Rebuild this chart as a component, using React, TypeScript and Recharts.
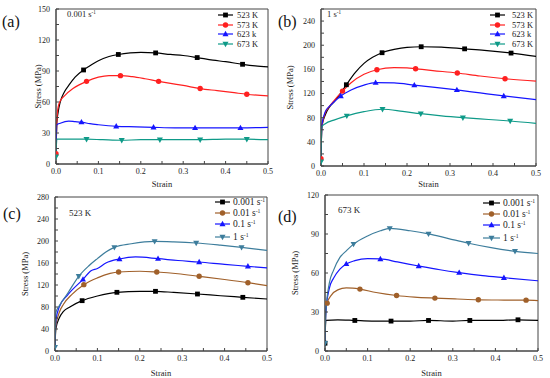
import React from "react";
import { ComposedChart, Line, Scatter, XAxis, YAxis, ReferenceArea } from "recharts";

type P = [number, number];

const FONT = "'Liberation Serif', 'DejaVu Serif', serif";

// ---- (a) 0.001 s-1, temperatures ----
const a523: P[] = [[0, 8], [0.002, 40], [0.005, 50], [0.01, 60], [0.02, 70], [0.03, 76], [0.045, 84], [0.065, 91], [0.08, 95], [0.1, 100], [0.125, 104], [0.147, 106], [0.175, 107.5], [0.2, 108], [0.235, 107.5], [0.27, 106], [0.3, 105], [0.333, 103], [0.37, 100.5], [0.4, 99], [0.44, 96.5], [0.47, 95], [0.5, 94]];
const a523m: P[] = [[0.065, 91], [0.147, 106], [0.235, 107.5], [0.333, 103], [0.44, 96.5]];
const a573: P[] = [[0, 10], [0.002, 42], [0.005, 55], [0.01, 61], [0.02, 66], [0.04, 73], [0.072, 80], [0.1, 84], [0.125, 85.5], [0.152, 85.5], [0.18, 84.5], [0.21, 82.5], [0.242, 80], [0.27, 78], [0.3, 76], [0.34, 73], [0.38, 71], [0.42, 69], [0.45, 67.5], [0.5, 66]];
const a573m: P[] = [[0, 10], [0.072, 80], [0.152, 85.5], [0.242, 80], [0.34, 73], [0.45, 67.5]];
const a623: P[] = [[0, 8], [0.002, 38], [0.01, 39.5], [0.03, 41.5], [0.045, 41], [0.06, 40.5], [0.08, 39], [0.1, 38], [0.142, 36.5], [0.19, 36], [0.23, 35.5], [0.28, 35], [0.328, 35], [0.38, 35], [0.435, 35], [0.5, 35.5]];
const a623m: P[] = [[0.06, 40.5], [0.142, 36.5], [0.23, 35.5], [0.328, 35], [0.435, 35]];
const a673: P[] = [[0, 7], [0.002, 24], [0.03, 24], [0.072, 24], [0.11, 23.5], [0.155, 23], [0.2, 23.5], [0.245, 23.5], [0.3, 23.5], [0.34, 23.5], [0.4, 24], [0.45, 24], [0.5, 23.5]];
const a673m: P[] = [[0, 7], [0.072, 24], [0.155, 23], [0.245, 23.5], [0.34, 23.5], [0.45, 24]];

// ---- (b) 1 s-1, temperatures ----
const b523: P[] = [[0, 10], [0.002, 65], [0.01, 85], [0.02, 98], [0.03, 106], [0.045, 120], [0.059, 134.6], [0.08, 155], [0.1, 170], [0.12, 180], [0.142, 187.6], [0.17, 193], [0.2, 196.5], [0.233, 197.5], [0.28, 197], [0.334, 194], [0.38, 191.5], [0.442, 187], [0.5, 181.5]];
const b523m: P[] = [[0.059, 134.6], [0.142, 187.6], [0.233, 197.5], [0.334, 194], [0.442, 187]];
const b573: P[] = [[0, 12], [0.002, 65], [0.01, 88], [0.02, 99], [0.03, 108], [0.05, 124], [0.07, 138], [0.1, 152], [0.13, 159.4], [0.17, 163], [0.2, 162.5], [0.22, 161], [0.26, 158], [0.317, 154], [0.37, 149], [0.428, 144.5], [0.5, 140.7]];
const b573m: P[] = [[0, 12], [0.05, 124], [0.13, 159.4], [0.22, 161], [0.317, 154], [0.428, 144.5]];
const b623: P[] = [[0, 8], [0.002, 68], [0.01, 90], [0.02, 99], [0.03, 106], [0.046, 116], [0.07, 126], [0.1, 134], [0.127, 138], [0.17, 137.5], [0.217, 134], [0.26, 130.5], [0.316, 126], [0.37, 121], [0.425, 116], [0.5, 110]];
const b623m: P[] = [[0.046, 116], [0.127, 138], [0.217, 134], [0.316, 126], [0.425, 116]];
const b673: P[] = [[0, 7], [0.002, 65], [0.01, 70], [0.03, 76], [0.06, 83], [0.1, 90], [0.143, 94], [0.19, 90.5], [0.232, 86.6], [0.28, 83], [0.33, 80], [0.39, 77], [0.44, 74.5], [0.5, 70.6]];
const b673m: P[] = [[0, 7], [0.06, 83], [0.143, 94], [0.232, 86.6], [0.33, 80], [0.44, 74.5]];

// ---- (c) 523 K, strain rates ----
const c0001: P[] = [[0, 8], [0.002, 40], [0.01, 60], [0.02, 72], [0.035, 80], [0.064, 91.5], [0.1, 100], [0.146, 106.7], [0.2, 108.5], [0.237, 108.5], [0.28, 106.5], [0.336, 103.6], [0.39, 100.5], [0.443, 97.6], [0.5, 94.5]];
const c0001m: P[] = [[0.064, 91.5], [0.146, 106.7], [0.237, 108.5], [0.336, 103.6], [0.443, 97.6]];
const c001: P[] = [[0, 10], [0.002, 45], [0.01, 70], [0.02, 85], [0.04, 103], [0.068, 120.6], [0.1, 133], [0.13, 141], [0.15, 143.6], [0.2, 145], [0.24, 143.6], [0.29, 140.5], [0.34, 135.8], [0.4, 130], [0.455, 124.2], [0.5, 118.8]];
const c001m: P[] = [[0.068, 120.6], [0.15, 143.6], [0.24, 143.6], [0.34, 135.8], [0.455, 124.2]];
const c01: P[] = [[0, 8], [0.002, 55], [0.01, 80], [0.03, 102], [0.066, 130.3], [0.085, 146], [0.1, 150], [0.12, 160], [0.152, 167.3], [0.19, 171], [0.243, 167.9], [0.29, 164.5], [0.34, 161.8], [0.4, 157.5], [0.455, 154], [0.5, 151]];
const c01m: P[] = [[0.066, 130.3], [0.152, 167.3], [0.243, 167.9], [0.34, 161.8], [0.455, 154]];
const c1: P[] = [[0, 7], [0.002, 70], [0.01, 82], [0.03, 105], [0.056, 135.8], [0.08, 155], [0.1, 168], [0.12, 180], [0.14, 188.5], [0.18, 195], [0.235, 199.4], [0.28, 198.5], [0.333, 196.4], [0.39, 192.5], [0.44, 188.5], [0.5, 183]];
const c1m: P[] = [[0, 7], [0.056, 135.8], [0.14, 188.5], [0.235, 199.4], [0.333, 196.4], [0.44, 188.5]];

// ---- (d) 673 K, strain rates ----
const d0001: P[] = [[0, 6], [0.002, 23.5], [0.03, 24], [0.07, 23.5], [0.11, 23], [0.155, 23], [0.2, 23], [0.243, 23.5], [0.3, 23], [0.34, 23.5], [0.4, 23.5], [0.453, 24], [0.5, 23.5]];
const d0001m: P[] = [[0, 6], [0.07, 23.5], [0.155, 23], [0.243, 23.5], [0.34, 23.5], [0.453, 24]];
const d001: P[] = [[0, 8], [0.002, 30], [0.005, 36.8], [0.015, 43], [0.03, 47], [0.05, 48.5], [0.065, 48.3], [0.082, 47.6], [0.12, 45], [0.168, 42.7], [0.21, 41.5], [0.258, 40.7], [0.31, 40], [0.36, 39.4], [0.42, 39.2], [0.472, 39.1], [0.5, 38.8]];
const d001m: P[] = [[0.005, 36.8], [0.082, 47.6], [0.168, 42.7], [0.258, 40.7], [0.36, 39.4], [0.472, 39.1]];
const d01: P[] = [[0, 8], [0.002, 30], [0.01, 48], [0.02, 56], [0.035, 63], [0.05, 67], [0.07, 69.5], [0.1, 71], [0.13, 70.8], [0.17, 68.5], [0.22, 65.4], [0.27, 62.5], [0.315, 60.3], [0.37, 58], [0.42, 56.4], [0.5, 54]];
const d01m: P[] = [[0.05, 67], [0.13, 70.8], [0.22, 65.4], [0.315, 60.3], [0.42, 56.4]];
const d1: P[] = [[0, 6], [0.002, 30], [0.01, 52], [0.02, 62], [0.035, 72], [0.05, 77], [0.067, 82.2], [0.1, 88.5], [0.13, 92.5], [0.152, 94.3], [0.2, 92.5], [0.243, 90.1], [0.29, 86.5], [0.337, 82.9], [0.39, 79.5], [0.446, 76.7], [0.5, 75]];
const d1m: P[] = [[0, 6], [0.067, 82.2], [0.152, 94.3], [0.243, 90.1], [0.337, 82.9], [0.446, 76.7]];

// ---- labels and ticks ----
const tempLabels = ["523 K", "573 K", "623 k", "673 K"];
const rateLabels = ["0.001", "0.01", "0.1", "1"];
const xTicks = [0, 0.05, 0.1, 0.15, 0.2, 0.25, 0.3, 0.35, 0.4, 0.45, 0.5];
const yTicksA = [0, 15, 30, 45, 60, 75, 90, 105, 120, 135, 150];
const yMajorA = [0, 30, 60, 90, 120, 150];
const yTicksB = [0, 20, 40, 60, 80, 100, 120, 140, 160, 180, 200, 220, 240, 260];
const yMajorB = [0, 40, 80, 120, 160, 200, 240];
const yTicksC = [0, 20, 40, 60, 80, 100, 120, 140, 160, 180, 200, 220, 240, 260, 280];
const yMajorC = [0, 40, 80, 120, 160, 200, 240, 280];
const yTicksD = [0, 15, 30, 45, 60, 75, 90, 105, 120];
const yMajorD = [0, 30, 60, 90, 120];

const tempColors = ["#000000", "#ff2020", "#1515ff", "#0e9a88"];
const rateColors = ["#000000", "#a0602a", "#1515ff", "#3d7d9c"];
const kinds = ["square", "circle", "up", "down"];

const toXY = (pts: P[]) => pts.map(([x, y]) => ({ x, y }));

function Mark({ kind, cx, cy, color }: { kind: string; cx: number; cy: number; color: string }) {
  if (cx == null || cy == null) return null;
  if (kind === "square") return <rect x={cx - 2.4} y={cy - 2.4} width={4.8} height={4.8} fill={color} />;
  if (kind === "circle") return <circle cx={cx} cy={cy} r={2.7} fill={color} />;
  if (kind === "up")
    return <polygon points={`${cx},${cy - 3.2} ${cx + 3},${cy + 2.2} ${cx - 3},${cy + 2.2}`} fill={color} />;
  return <polygon points={`${cx},${cy + 3.2} ${cx + 3},${cy - 2.2} ${cx - 3},${cy - 2.2}`} fill={color} />;
}

interface PanelCfg {
  left: number;
  top: number;
  tag: string;
  tagPos: [number, number];
  note: React.ReactNode;
  notePos: [number, number];
  noteSize: number;
  margin: { top: number; right: number; left: number; bottom: number };
  yLabelX: number;
  yMax: number;
  yTicks: number[];
  yMajor: number[];
  curves: P[][];
  marks: P[][];
  colors: string[];
  labels: React.ReactNode[];
  legend: { x0: number; x1: number; tx: number; rows: number[]; size: number };
}

const sup = (base: string) => (
  <span>
    {base} s<sup style={{ fontSize: "0.6em", verticalAlign: "0.6em", lineHeight: 0 }}>-1</sup>
  </span>
);

function Panel({ cfg }: { cfg: PanelCfg }) {
  const W = 275;
  const H = 189;
  const { margin } = cfg;
  const ax = "#444";
  return (
    <div style={{ position: "absolute", left: cfg.left, top: cfg.top, width: W, height: H, fontFamily: FONT }}>
      <ComposedChart width={W} height={H} margin={{ top: margin.top, right: margin.right, left: 0, bottom: 0 }}>
        <XAxis
          dataKey="x"
          type="number"
          domain={[0, 0.5]}
          ticks={xTicks}
          interval={0}
          allowDataOverflow
          height={margin.bottom}
          stroke={ax}
          tickSize={-3}
          tickMargin={7}
          tick={{ fontSize: 8, fill: "#222", fontFamily: FONT }}
          tickFormatter={(v: number) => (Math.abs(v * 10 - Math.round(v * 10)) < 1e-6 ? v.toFixed(1) : "")}
          label={{ value: "Strain", position: "insideBottom", offset: 2, style: { fontSize: 8.5, fill: "#222", fontFamily: FONT } }}
        />
        <YAxis
          dataKey="y"
          type="number"
          domain={[0, cfg.yMax]}
          ticks={cfg.yTicks}
          interval={0}
          allowDataOverflow
          width={margin.left}
          stroke={ax}
          tickSize={-3}
          tickMargin={9}
          tick={{ fontSize: 8, fill: "#222", fontFamily: FONT }}
          tickFormatter={(v: number) => (cfg.yMajor.includes(v) ? String(v) : "")}
          label={{
            value: "Stress (MPa)",
            angle: -90,
            position: "insideLeft",
            offset: cfg.yLabelX,
            style: { fontSize: 8.5, fill: "#222", textAnchor: "middle", fontFamily: FONT },
          }}
        />
        <ReferenceArea x1={0} x2={0.5} y1={0} y2={cfg.yMax} fill="none" stroke={ax} strokeWidth={1} ifOverflow="visible" />
        {cfg.curves.map((c, i) => (
          <Line
            key={"l" + i}
            data={toXY(c)}
            dataKey="y"
            type="monotone"
            stroke={cfg.colors[i]}
            strokeWidth={1.2}
            dot={false}
            activeDot={false}
            isAnimationActive={false}
          />
        ))}
        {cfg.marks.map((m, i) => (
          <Scatter
            key={"s" + i}
            data={toXY(m)}
            dataKey="y"
            fill={cfg.colors[i]}
            isAnimationActive={false}
            shape={(p: any) => <Mark kind={kinds[i]} cx={p.cx} cy={p.cy} color={cfg.colors[i]} />}
          />
        ))}
      </ComposedChart>
      {/* panel tag */}
      <div style={{ position: "absolute", left: cfg.tagPos[0], top: cfg.tagPos[1], fontSize: 16, color: "#111" }}>{cfg.tag}</div>
      {/* in-plot note */}
      <div style={{ position: "absolute", left: cfg.notePos[0], top: cfg.notePos[1], fontSize: cfg.noteSize, color: "#222" }}>
        {cfg.note}
      </div>
      {/* legend */}
      {cfg.labels.map((lab, i) => {
        const y = cfg.legend.rows[i];
        const lw = cfg.legend.x1 - cfg.legend.x0;
        return (
          <div key={"lg" + i} style={{ position: "absolute", left: cfg.legend.x0, top: y - 6, height: 12, display: "flex", alignItems: "center" }}>
            <svg width={lw} height={12} style={{ display: "block" }}>
              <line x1={0} y1={6} x2={lw} y2={6} stroke={cfg.colors[i]} strokeWidth={1.2} />
              <Mark kind={kinds[i]} cx={lw / 2} cy={6} color={cfg.colors[i]} />
            </svg>
            <span style={{ marginLeft: cfg.legend.tx - cfg.legend.x1, fontSize: cfg.legend.size, color: "#222", whiteSpace: "nowrap" }}>{lab}</span>
          </div>
        );
      })}
    </div>
  );
}

const panels: PanelCfg[] = [
  {
    left: 0, top: 0, tag: "(a)", tagPos: [2, 13], note: sup("0.001"), notePos: [67, 9], noteSize: 8.5,
    margin: { top: 9, right: 7, left: 56, bottom: 25 }, yLabelX: 38, yMax: 150, yTicks: yTicksA, yMajor: yMajorA,
    curves: [a523, a573, a623, a673], marks: [a523m, a573m, a623m, a673m], colors: tempColors, labels: tempLabels,
    legend: { x0: 218, x1: 233, tx: 237, rows: [15, 24.5, 34, 43.5], size: 8.5 },
  },
  {
    left: 275, top: 0, tag: "(b)", tagPos: [3, 13], note: sup("1"), notePos: [52, 9], noteSize: 8.5,
    margin: { top: 9, right: 14, left: 46, bottom: 23 }, yLabelX: 15, yMax: 260, yTicks: yTicksB, yMajor: yMajorB,
    curves: [b523, b573, b623, b673], marks: [b523m, b573m, b623m, b673m], colors: tempColors, labels: tempLabels,
    legend: { x0: 215, x1: 230, tx: 237, rows: [15, 24.5, 34, 43.5], size: 8.5 },
  },
  {
    left: 0, top: 189, tag: "(c)", tagPos: [3, 16], note: "523 K", notePos: [69, 19], noteSize: 9,
    margin: { top: 8, right: 8, left: 55, bottom: 27 }, yLabelX: 25, yMax: 280, yTicks: yTicksC, yMajor: yMajorC,
    curves: [c0001, c001, c01, c1], marks: [c0001m, c001m, c01m, c1m], colors: rateColors, labels: rateLabels.map(sup),
    legend: { x0: 215, x1: 230, tx: 233, rows: [13, 24, 35, 48], size: 9.5 },
  },
  {
    left: 275, top: 189, tag: "(d)", tagPos: [3, 19], note: "673 K", notePos: [63, 16], noteSize: 9,
    margin: { top: 6, right: 12, left: 50, bottom: 27 }, yLabelX: 20, yMax: 120, yTicks: yTicksD, yMajor: yMajorD,
    curves: [d0001, d001, d01, d1], marks: [d0001m, d001m, d01m, d1m], colors: rateColors, labels: rateLabels.map(sup),
    legend: { x0: 208, x1: 225, tx: 228, rows: [14, 25, 36, 49], size: 9.5 },
  },
];

export default function App() {
  return (
    <div style={{ position: "absolute", left: 0, top: 0, width: 550, height: 378, background: "#fff", overflow: "hidden" }}>
      {panels.map((p) => (
        <Panel key={p.tag} cfg={p} />
      ))}
    </div>
  );
}
